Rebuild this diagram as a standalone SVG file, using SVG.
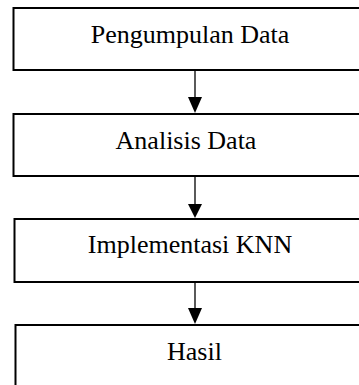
<svg xmlns="http://www.w3.org/2000/svg" width="359" height="385" viewBox="0 0 359 385">
<defs>
<style>
.box{fill:#fff;stroke:#000;stroke-width:2}
.lbl{font-family:"Liberation Serif","Times New Roman",serif;font-size:26px;fill:#000;text-anchor:middle}
.ln{stroke:#000;stroke-width:1.3;fill:none}
.hd{fill:#000}
</style>
</defs>
<rect width="359" height="385" fill="#fff"/>
<g id="connectors">
<line class="ln" x1="195" y1="71" x2="195" y2="100"/>
<polygon class="hd" points="188,97 202,97 195,113"/>
<line class="ln" x1="195" y1="177" x2="195" y2="207"/>
<polygon class="hd" points="188,204 202,204 195,218"/>
<line class="ln" x1="195" y1="283" x2="195" y2="310"/>
<polygon class="hd" points="188,308 202,308 195,324"/>
</g>
<g id="n1">
<rect class="box" x="13.5" y="8" width="370" height="62"/>
<text class="lbl" x="190" y="43">Pengumpulan Data</text>
</g>
<g id="n2">
<rect class="box" x="13.5" y="114" width="370" height="62"/>
<text class="lbl" x="186" y="149">Analisis Data</text>
</g>
<g id="n3">
<rect class="box" x="14.5" y="219" width="370" height="63"/>
<text class="lbl" x="190" y="253">Implementasi KNN</text>
</g>
<g id="n4">
<rect class="box" x="15.5" y="325" width="370" height="100"/>
<text class="lbl" x="194.5" y="360">Hasil</text>
</g>
</svg>
